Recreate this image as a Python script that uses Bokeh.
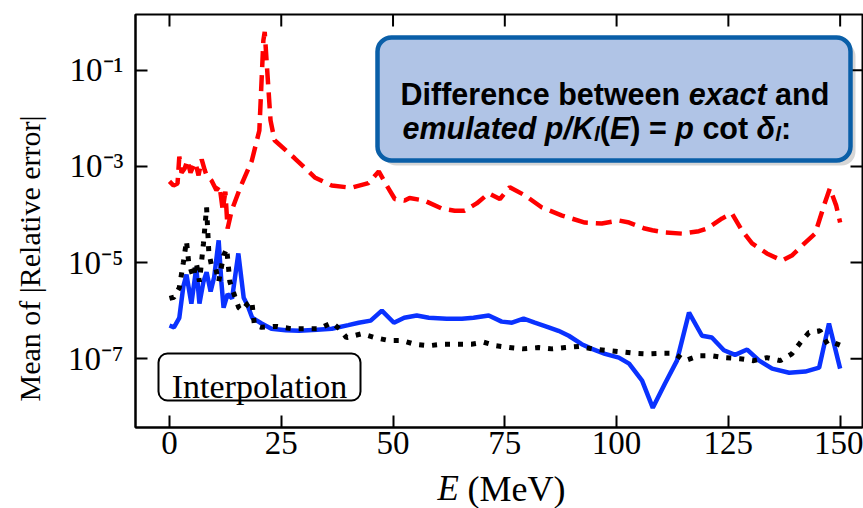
import math
from bokeh.plotting import figure
from bokeh.layouts import column
from bokeh.models import Range1d, FixedTicker, BoxAnnotation, Label
from bokeh.embed import file_html
from bokeh.resources import INLINE

# ---------------- data ----------------
E_red = [0, 0.9, 1.8, 2.2, 2.7, 3.4, 4.0, 4.7, 5.4, 5.8, 6.5, 7.2, 7.9, 8.3, 9.4, 10.5,
         11.2, 11.9, 12.5, 13.0, 13.9, 16.0, 18.4, 20.1, 21.0, 21.3, 21.7, 22.6, 23.5,
         28.0, 32.5, 36.3, 40.7, 44.5, 46.8, 48.6, 50.4, 52.6, 53.7, 57.0, 60.9, 63.8,
         66.0, 68.7, 71.4, 73.9, 76.1, 79.5, 83.3, 87.8, 92.9, 96.7, 100.5, 102.8, 106.3,
         108.0, 111.0, 114.6, 118.4, 120.2, 123.6, 125.8, 128.0, 130.3, 133.6, 137.0,
         139.2, 142.2, 144.4, 146.4, 147.7, 149.1, 150.0]
err_red = [4.9e-4, 4.0e-4, 4.4e-4, 1.6e-3, 7.4e-4, 9.1e-4, 1.35e-3, 7.4e-4, 1.05e-3, 1.2e-3,
           6.5e-4, 1.4e-3, 8.3e-4, 6.5e-4, 5.1e-4, 3.2e-4, 4.0e-4, 1.26e-4, 3.0e-4, 5.1e-5,
           1.2e-4, 4.0e-4, 1.3e-3, 5.6e-3, 0.42, 0.63, 0.166, 9.1e-3, 3.5e-3, 1.48e-3,
           5.9e-4, 4.0e-4, 3.6e-4, 4.5e-4, 7.9e-4, 4.0e-4, 2.1e-4, 1.95e-4, 2.2e-4, 1.95e-4,
           1.33e-4, 1.2e-4, 1.2e-4, 1.7e-4, 2.75e-4, 2.1e-4, 3.7e-4, 2.5e-4, 1.4e-4, 9.5e-5,
           6.8e-5, 6.5e-5, 7.5e-5, 6.8e-5, 5.1e-5, 4.7e-5, 4.2e-5, 4.0e-5, 4.5e-5, 5.1e-5,
           8.3e-5, 1.05e-4, 4.7e-5, 2.5e-5, 1.55e-5, 1.1e-5, 1.4e-5, 2.6e-5, 4.0e-5, 1.55e-4,
           3.5e-4, 1.55e-4, 6.8e-5]

E_blue = [0, 1.0, 2.2, 3.1, 3.8, 4.9, 6.0, 6.7, 7.6, 8.3, 9.2, 10.0, 11.0, 11.6, 12.1, 13.0,
          14.0, 15.4, 16.6, 17.5, 18.5, 20.6, 22.8, 26.0, 29.0, 33.0, 36.3, 40.0, 42.3, 45.0,
          47.5, 50.2, 52.5, 55.3, 58.0, 62.0, 65.4, 68.0, 71.4, 74.3, 76.6, 79.2, 81.7, 84.8,
          87.0, 89.3, 92.2, 94.5, 97.4, 100.5, 102.8, 105.7, 108.1, 110.8, 113.5, 116.2,
          119.1, 121.3, 124.0, 126.5, 129.2, 131.9, 134.8, 138.6, 142.2, 145.3, 147.5, 150.0]
err_blue = [4.9e-7, 4.5e-7, 7.1e-7, 3.2e-6, 5.6e-6, 1.4e-6, 7.9e-6, 1.4e-6, 4.0e-6, 6.3e-6,
            2.5e-6, 5.0e-6, 2.9e-5, 4.0e-6, 1.15e-6, 2.2e-6, 1.8e-6, 1.55e-5, 1.86e-6, 1.26e-6,
            7.1e-7, 5.4e-7, 4.2e-7, 3.9e-7, 3.8e-7, 4.0e-7, 4.2e-7, 5.0e-7, 5.6e-7, 6.2e-7,
            1.0e-6, 5.6e-7, 7.1e-7, 7.9e-7, 7.1e-7, 6.8e-7, 6.8e-7, 7.1e-7, 7.9e-7, 5.9e-7,
            5.6e-7, 6.8e-7, 5.6e-7, 4.5e-7, 3.8e-7, 3.0e-7, 2.0e-7, 1.6e-7, 1.26e-7, 1.05e-7,
            7.9e-8, 3.5e-8, 9.5e-9, 3.0e-8, 9.1e-8, 9.1e-7, 3.0e-7, 2.75e-7, 1.5e-7, 1.2e-7,
            1.55e-7, 9.1e-8, 6.2e-8, 5.1e-8, 5.4e-8, 6.5e-8, 5.4e-7, 6.2e-8]

E_black = [0, 1.0, 2.2, 3.1, 3.8, 4.3, 5.3, 6.0, 6.7, 7.6, 8.3, 8.8, 9.4, 10.3, 11.0, 12.1,
           12.8, 13.5, 14.6, 15.5, 16.2, 17.5, 18.4, 19.0, 20.6, 24.0, 27.3, 30.5, 33.4,
           36.3, 38.0, 39.6, 43.0, 45.9, 49.0, 52.0, 54.8, 58.0, 61.0, 64.2, 67.5, 70.3,
           73.0, 76.0, 79.0, 82.5, 85.5, 88.5, 91.6, 94.5, 97.4, 100.5, 103.9, 106.8, 110.0,
           112.8, 115.3, 118.4, 121.3, 124.2, 127.6, 130.7, 133.6, 136.6, 139.2, 141.0,
           143.0, 145.5, 147.2, 148.9, 150.0]
err_black = [1.8e-6, 1.9e-6, 3.0e-6, 1.0e-5, 2.8e-5, 1.0e-5, 5.0e-6, 1.0e-5, 4.0e-6, 2.5e-5,
             1.4e-4, 1.6e-5, 8.7e-6, 7.9e-6, 4.0e-6, 1.4e-5, 1.95e-5, 4.0e-6, 2.0e-6, 1.15e-6,
             1.0e-6, 1.4e-6, 1.6e-6, 5.0e-7, 4.5e-7, 4.7e-7, 4.2e-7, 4.2e-7, 4.2e-7, 5.6e-7,
             4.2e-7, 2.75e-7, 3.3e-7, 2.75e-7, 2.4e-7, 2.4e-7, 2.0e-7, 1.86e-7, 2.0e-7, 2.0e-7,
             2.0e-7, 2.2e-7, 1.86e-7, 1.7e-7, 1.6e-7, 1.7e-7, 1.6e-7, 1.7e-7, 1.8e-7, 1.6e-7,
             1.5e-7, 1.4e-7, 1.3e-7, 1.26e-7, 1.3e-7, 1.3e-7, 9.1e-8, 1.15e-7, 1.15e-7, 1.05e-7,
             1.0e-7, 9.1e-8, 1.05e-7, 9.1e-8, 1.26e-7, 2.1e-7, 3.5e-7, 3.8e-7, 2.0e-7, 2.1e-7,
             1.9e-7]

x_ticks = [0, 25, 50, 75, 100, 125, 150]
y_ticks = [1e-1, 1e-3, 1e-5, 1e-7]
y_tick_labels = ["10\u207b\u00b9", "10\u207b\u00b3", "10\u207b\u2075", "10\u207b\u2077"]

y_title = "Mean of |Relative error|"
x_title_var = "E"
x_title_unit = "(MeV)"
box_text_1 = [("Difference between", "bold"), ("exact", "bold italic"), ("and", "bold")]
interp_text = "Interpolation"

# ---------------- layout ----------------
W, H = 863, 508
H_MAIN = 466                            # main figure; the x title strip sits below it
FL, FR, FT, FB = 135, 862, 14, 427      # frame edges in canvas pixels
X0, X1 = -7.6, 155.0
Y0, Y1 = 3.7e-9, 1.45
SERIF = "Liberation Serif"
SANS = "Liberation Sans"
TICK = 12

def sx(px):   # canvas x -> frame screen x
    return px - FL

def sy(py):   # canvas y -> frame screen y (upwards from frame bottom)
    return FB - py

p = figure(width=W, height=H_MAIN, output_backend="svg", toolbar_location=None,
           y_axis_type="log",
           x_range=Range1d(X0, X1), y_range=Range1d(Y0, Y1),
           min_border_left=FL, min_border_right=W - FR, min_border_top=FT,
           min_border_bottom=H_MAIN - FB)
p.grid.visible = False
p.outline_line_color = "black"
p.outline_line_width = 2
p.background_fill_color = "white"
p.border_fill_color = "white"

p.line(E_red, err_red, line_color="#ff0000", line_width=4.5, line_dash="16 8")
p.line(E_blue, err_blue, line_color="#0a32ff", line_width=4.5)
p.line(E_black, err_black, line_color="black", line_width=5, line_dash="5 8")

def style_axis(ax):
    ax.axis_line_width = 2
    ax.axis_line_color = "black"
    ax.major_tick_in = TICK
    ax.major_tick_out = 0
    ax.minor_tick_in = 0
    ax.minor_tick_out = 0
    ax.major_tick_line_width = 2
    ax.major_tick_line_color = "black"
    ax.major_label_text_font = SERIF
    ax.major_label_text_font_size = "33px"
    ax.major_label_text_color = "black"

xa = p.xaxis[0]
ya = p.yaxis[0]
style_axis(xa)
style_axis(ya)
xa.ticker = FixedTicker(ticks=x_ticks)
ya.ticker = FixedTicker(ticks=y_ticks)
ya.major_label_overrides = {t: s for t, s in zip(y_ticks, y_tick_labels)}
xa.major_label_standoff = 4
ya.major_label_standoff = 12
# trailing no-break spaces push the visible label a little lower, as in the reference
ya.axis_label = y_title + "\u00a0" * 10
ya.axis_label_text_font = SERIF
ya.axis_label_text_font_size = "30px"
ya.axis_label_text_font_style = "normal"
ya.axis_label_text_color = "black"
ya.axis_label_standoff = 19

# inward ticks on the top and right edges of the frame (mirroring the axes)
dec_per_px = (math.log10(Y1) - math.log10(Y0)) / (FB - FT)
x_per_px = (X1 - X0) / (FR - FL)
p.segment(x0=x_ticks, y0=[Y1] * len(x_ticks), x1=x_ticks,
          y1=[Y1 / 10 ** (TICK * dec_per_px)] * len(x_ticks),
          line_color="black", line_width=2)
p.segment(x0=[X1] * len(y_ticks), y0=y_ticks, x1=[X1 - TICK * x_per_px] * len(y_ticks),
          y1=y_ticks, line_color="black", line_width=2)

# ---------------- annotation box ----------------
BL, BR, BT, BB = 377, 850, 37, 160
p.add_layout(BoxAnnotation(left=sx(BL) + 5, right=sx(BR) + 5, top=sy(BT) - 5, bottom=sy(BB) - 5,
                           left_units="screen", right_units="screen", top_units="screen",
                           bottom_units="screen", fill_color="black", fill_alpha=0.16,
                           line_alpha=0, border_radius=14, level="annotation"))
p.add_layout(BoxAnnotation(left=sx(BL), right=sx(BR), top=sy(BT), bottom=sy(BB),
                           left_units="screen", right_units="screen", top_units="screen",
                           bottom_units="screen", fill_color="#b0c4e6", fill_alpha=1.0,
                           line_color="#0a5fa8", line_alpha=1.0, line_width=4.5,
                           border_radius=14, level="annotation"))

W_BOLD = {' ': 278, 'D': 722, 'i': 278, 'f': 333, 'e': 556, 'r': 389, 'n': 611, 'c': 556,
          'b': 611, 't': 333, 'w': 778, 'x': 556, 'a': 556, 'd': 611, 'm': 889, 'u': 611,
          'l': 278, 'p': 611, '/': 278, 'K': 722, '(': 333, ')': 333, 'E': 667, '=': 584,
          'o': 611, '\u03b4': 611, ':': 333}

def tw(s, size):
    return sum(W_BOLD[c] for c in s) * size / 1000.0

FS = 30.5
SUB = 21
def seg(text, x, y, style, size=FS):
    p.add_layout(Label(x=x, y=y, x_units="screen", y_units="screen", text=text,
                       text_font=SANS, text_font_size=f"{size}px", text_font_style=style,
                       text_baseline="alphabetic", text_align="left", text_color="black"))

# line 1
cx, y1 = sx(400), sy(93)
for t, st in box_text_1:
    seg(t, cx, y1, st)
    cx += tw(t + " ", FS)

# line 2: emulated p/K_l(E) = p cot δ_l:
y2 = sy(127)
line2 = [("emulated p/K", "bold italic", FS, 0, 0),
         ("l", "bold italic", SUB, -6, 0),
         ("(", "bold", FS, 0, 0),
         ("E", "bold italic", FS, 0, 0),
         (")", "bold", FS, 0, 1),
         ("=", "bold", FS, 0, 1),
         ("p", "bold italic", FS, 0, 1),
         ("cot", "bold", FS, 0, 1),
         ("\u03b4", "bold italic", FS, 0, 0),
         ("l", "bold italic", SUB, -6, 0),
         (":", "bold", FS, 0, 0)]
cx = sx(402)
for t, st, size, dy, space_after in line2:
    seg(t, cx, y2 + dy, st, size)
    cx += tw(t, size) + space_after * tw(" ", FS)

# ---------------- Interpolation label ----------------
IL, IR, IT, IB = 158, 360, 353, 400
p.add_layout(BoxAnnotation(left=sx(IL), right=sx(IR), top=sy(IT), bottom=sy(IB),
                           left_units="screen", right_units="screen", top_units="screen",
                           bottom_units="screen", fill_color="white", fill_alpha=1.0,
                           line_color="black", line_alpha=1.0, line_width=2, border_radius=9,
                           level="annotation"))
p.add_layout(Label(x=sx((IL + IR) / 2), y=sy(386), x_units="screen", y_units="screen",
                   text=interp_text, text_font=SERIF, text_font_size="34px",
                   text_baseline="alphabetic", text_align="center", text_color="black"))

# ---------------- x title strip (italic E + (MeV)) ----------------
HS = H - H_MAIN
q = figure(width=W, height=HS, output_backend="svg", toolbar_location=None,
           x_range=Range1d(FL, FR), y_range=Range1d(0, HS),
           min_border_left=FL, min_border_right=W - FR, min_border_top=0, min_border_bottom=0,
           x_axis_location=None, y_axis_location=None)
q.grid.visible = False
q.outline_line_color = None
q.background_fill_color = "white"
q.border_fill_color = "white"
q.add_layout(Label(x=437, y=H - 500 + 12, text=x_title_var, text_font=SERIF,
                   text_font_size="35px", text_font_style="italic",
                   text_baseline="alphabetic", text_align="left", text_color="black"))
q.add_layout(Label(x=467, y=H - 500 + 12, text=x_title_unit, text_font=SERIF,
                   text_font_size="36px", text_font_style="normal",
                   text_baseline="alphabetic", text_align="left", text_color="black"))

layout = column(p, q, spacing=0)
open("out.html", "w").write(file_html(layout, INLINE))
